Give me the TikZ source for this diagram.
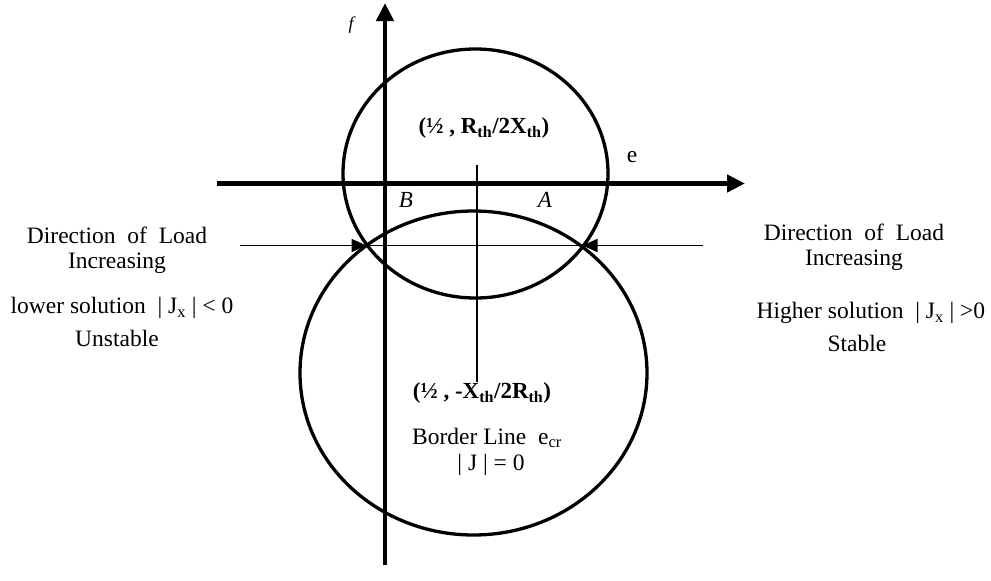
\documentclass[tikz,border=0pt]{standalone}
\usepackage{fontspec}
\setmainfont{Liberation Serif}
\usetikzlibrary{arrows.meta}
\tikzset{
  axis/.style={line width=4.5pt,-{Triangle[length=18pt,width=17pt]}},
  curve/.style={line width=3.3pt},
  thin/.style={line width=1.8pt},
  tick/.style={line width=1.4pt},
  loadarrow/.style={line width=1.8pt,-{Triangle[length=15pt,width=13pt]}},
  lbl/.style={inner sep=0pt,font=\fontsize{23.5}{27}\selectfont},
  blbl/.style={inner sep=0pt,font=\fontsize{23}{27}\selectfont\bfseries},
  ilbl/.style={inner sep=0pt,font=\fontsize{23}{27}\selectfont\itshape},
}
\begin{document}
\begin{tikzpicture}[x=1pt,y=-1pt]
\useasboundingbox (0,0) rectangle (991,581);
% coordinates
\coordinate (vb) at (385,565);
\coordinate (vt) at (385,3);
\coordinate (hl) at (217,183.5);
\coordinate (hr) at (745,183.5);
\coordinate (uc) at (475.5,173.5);
\coordinate (lc) at (473.5,373);
\coordinate (L) at (366.5,245.5);
\coordinate (R) at (582.5,245.5);
\coordinate (la) at (240,245.5);
\coordinate (ra) at (703,245.5);
\coordinate (tt) at (477,165);
\coordinate (tb) at (477,382);
% circles
\draw[curve] (uc) ellipse [x radius=132.5pt, y radius=124.5pt];
\draw[curve] (lc) ellipse [x radius=173.5pt, y radius=162pt];
% axes
\draw[axis] (vb) -- (vt);
\draw[axis] (hl) -- (hr);
% thin lines
\draw[tick] (tt) -- (tb);
\draw[thin] (L) -- (R);
\draw[loadarrow] (la) -- (L);
\draw[loadarrow] (ra) -- (R);
% labels
\node[inner sep=0pt,font=\fontsize{18}{20}\selectfont\itshape] (f) at (351,25) {f};
\node[lbl] (e) at (632,157) {e};
\node[ilbl] (B) at (406,200) {B};
\node[ilbl] (A) at (545,200) {A};
\node[blbl] (uplbl) at (484,128) {(½ , R\textsubscript{th}/2X\textsubscript{th})};
\node[blbl] (lolbl) at (482,393) {(½ , -X\textsubscript{th}/2R\textsubscript{th})};
\node[lbl] (border) at (487,438) {Border Line \ e\textsubscript{cr}};
\node[lbl] (jzero) at (491,465) {| J | = 0};
\node[lbl] (l1) at (117,235) {Direction \ of \ Load};
\node[lbl] (l2) at (117,263) {Increasing};
\node[lbl] (l3) at (122,308) {lower solution \ | J\textsubscript{x} | < 0};
\node[lbl] (l4) at (117,338) {Unstable};
\node[lbl] (r1) at (854,232) {Direction \ of \ Load};
\node[lbl] (r2) at (854,260) {Increasing};
\node[lbl] (r3) at (871,313) {Higher solution \ | J\textsubscript{x} | >0};
\node[lbl] (r4) at (857,343) {Stable};
\end{tikzpicture}
\end{document}
